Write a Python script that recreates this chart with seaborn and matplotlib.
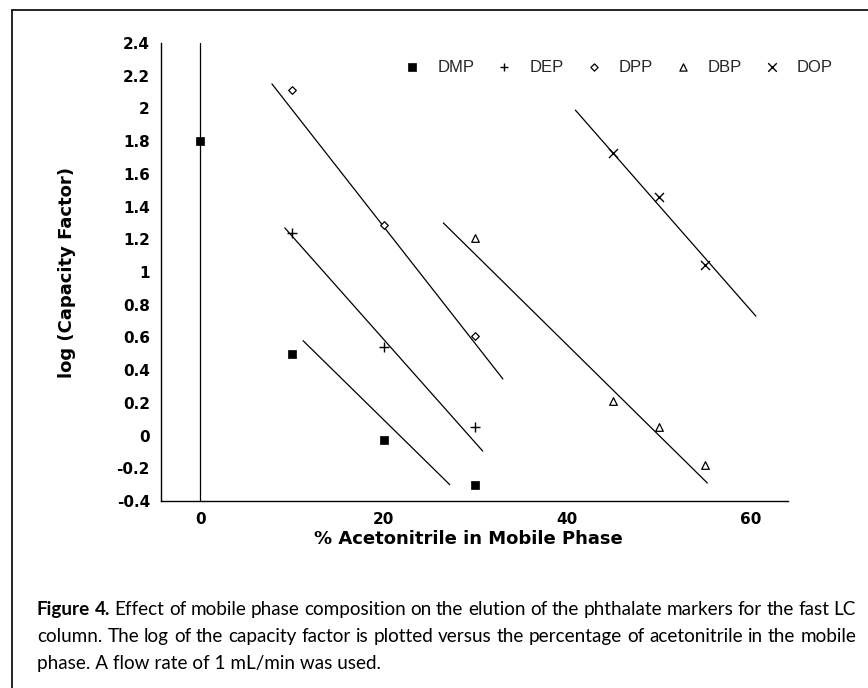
import numpy as np
import pandas as pd
import matplotlib
matplotlib.use("Agg")
import matplotlib.pyplot as plt
from matplotlib.lines import Line2D
from matplotlib import font_manager
import seaborn as sns

# ---------------- data ----------------
compounds = ["DMP", "DEP", "DPP", "DBP", "DOP"]

dmp_x = [0, 10, 20, 30]
dmp_y = [1.80, 0.50, -0.03, -0.30]
dep_x = [10, 20, 30]
dep_y = [1.24, 0.54, 0.05]
dpp_x = [10, 20, 30]
dpp_y = [2.11, 1.29, 0.61]
dbp_x = [30, 45, 50, 55]
dbp_y = [1.21, 0.21, 0.05, -0.18]
dop_x = [45, 50, 55]
dop_y = [1.73, 1.46, 1.04]

# fitted lines drawn on the chart (start / end)
fit_names = ["DMP0", "DMP", "DEP", "DPP", "DBP", "DOP"]
fit_x_start = [0.0, 11.2, 9.2, 7.8, 26.5, 40.9]
fit_y_start = [2.4, 0.58, 1.27, 2.15, 1.30, 1.99]
fit_x_end = [0.0, 27.2, 30.8, 33.0, 55.3, 60.6]
fit_y_end = [-0.4, -0.30, -0.095, 0.346, -0.29, 0.73]

x_ticks = [0, 10, 20, 30, 40, 50, 60]
x_tick_labels = ["0", "", "20", "", "40", "", "60"]
y_ticks = [-0.4, -0.2, 0, 0.2, 0.4, 0.6, 0.8, 1.0, 1.2, 1.4, 1.6, 1.8, 2.0, 2.2, 2.4]
y_tick_labels = ["-0.4", "-0.2", "0", "0.2", "0.4", "0.6", "0.8", "1", "1.2",
                 "1.4", "1.6", "1.8", "2", "2.2", "2.4"]

x_label = "% Acetonitrile in Mobile Phase"
y_label = "log (Capacity Factor)"

cap_bold = "Figure 4."
cap_line1 = "Effect of mobile phase composition on the elution of the phthalate markers for the fast LC"
cap_line2 = "column. The log of the capacity factor is plotted versus the percentage of acetonitrile in the mobile"
cap_line3 = "phase. A flow rate of 1 mL/min was used."

# ---------------- style ----------------
sns.set_theme(style="white")
plt.rcParams["font.family"] = ["DejaVu Sans"]

W, H = 868, 688
fig = plt.figure(figsize=(W / 100, H / 100), dpi=100)
fig.patch.set_facecolor("white")
ax = fig.add_axes([161 / W, 1 - 501 / H, (788 - 161) / W, (501 - 43) / H])
ax.set_facecolor("white")

series = {
    "DMP": (dmp_x, dmp_y, dict(marker="s", s=36, color="black", edgecolor="black", linewidth=0.5)),
    "DEP": (dep_x, dep_y, dict(marker="+", s=42, color="black", linewidth=1.0)),
    "DPP": (dpp_x, dpp_y, dict(marker="D", s=15, color="black", facecolor="white", edgecolor="black", linewidth=0.9)),
    "DBP": (dbp_x, dbp_y, dict(marker="^", s=30, color="black", facecolor="white", edgecolor="black", linewidth=0.9)),
    "DOP": (dop_x, dop_y, dict(marker="x", s=42, color="black", linewidth=1.0)),
}

# fit lines
fit_df = pd.DataFrame({
    "x": fit_x_start + fit_x_end,
    "y": fit_y_start + fit_y_end,
    "line": fit_names + fit_names,
})
sns.lineplot(data=fit_df, x="x", y="y", units="line", estimator=None, sort=False,
             color="black", linewidth=0.9, legend=False, ax=ax)

for name in compounds:
    xs, ys, kw = series[name]
    df = pd.DataFrame({"x": xs, "y": ys})
    sns.scatterplot(data=df, x="x", y="y", label=name, ax=ax, zorder=3, **kw)

ax.set_xlim(-4.3, 64.1)
ax.set_ylim(-0.4, 2.4)
ax.set_xticks(x_ticks)
ax.set_xticklabels(x_tick_labels)
ax.set_yticks(y_ticks)
ax.set_yticklabels(y_tick_labels)

for side in ["top", "right"]:
    ax.spines[side].set_visible(False)
for side in ["left", "bottom"]:
    ax.spines[side].set_color("black")
    ax.spines[side].set_linewidth(1.0)

ax.tick_params(axis="both", direction="in", length=6, width=0.9, color="black",
               labelcolor="black", labelsize=11)
ax.tick_params(axis="x", pad=8)
ax.tick_params(axis="y", pad=8)
for lab in ax.get_xticklabels() + ax.get_yticklabels():
    lab.set_fontweight("bold")

ax.set_xlabel(x_label, fontsize=13, fontweight="bold", color="black")
ax.set_ylabel(y_label, fontsize=13, fontweight="bold", color="black")
ax.xaxis.set_label_coords(0.491, -0.063)
ax.yaxis.set_label_coords(-0.135, 0.5)

handles, labels = ax.get_legend_handles_labels()
leg = ax.legend(handles, labels, ncol=5, frameon=False, loc="center left",
                bbox_to_anchor=(404 / W, 1 - 67 / H), bbox_transform=fig.transFigure,
                handlelength=1.0, handletextpad=1.0, columnspacing=1.3,
                borderpad=0, borderaxespad=0, markerscale=0.95,
                prop={"family": "Liberation Sans", "size": 12})

# outer frame lines (left and top)
fig.add_artist(Line2D([12 / W, 12 / W], [0, 1 - 10 / H], transform=fig.transFigure,
                      color="black", linewidth=1.2))
fig.add_artist(Line2D([12 / W, 1], [1 - 10 / H, 1 - 10 / H], transform=fig.transFigure,
                      color="black", linewidth=1.2))

# ---------------- caption ----------------
names = {f.name for f in font_manager.fontManager.ttflist}
cap_family = "Lato" if "Lato" in names else "DejaVu Sans"
cap_fs = 13.6

fig.canvas.draw()
renderer = fig.canvas.get_renderer()


def word_width(s, weight):
    t = fig.text(0, 0, s, fontsize=cap_fs, family=cap_family, fontweight=weight)
    w = t.get_window_extent(renderer).width
    t.remove()
    return w


def justify(words, x0, x1, y_px):
    widths = [word_width(w, wt) for w, wt in words]
    gap = (x1 - x0 - sum(widths)) / (len(words) - 1)
    x = x0
    for (w, wt), wd in zip(words, widths):
        fig.text(x / W, 1 - y_px / H, w, fontsize=cap_fs, family=cap_family,
                 fontweight=wt, va="baseline", ha="left", color="black")
        x += wd + gap


cx0, cx1 = 37, 856
line1_words = [(w, "bold") for w in cap_bold.split()] + [(w, "normal") for w in cap_line1.split()]
line2_words = [(w, "normal") for w in cap_line2.split()]
justify(line1_words, cx0, cx1, 615)
justify(line2_words, cx0, cx1, 642)
fig.text(cx0 / W, 1 - 669 / H, cap_line3, fontsize=cap_fs, family=cap_family,
         va="baseline", ha="left", color="black")

fig.savefig("out.png", dpi=100, facecolor="white")
